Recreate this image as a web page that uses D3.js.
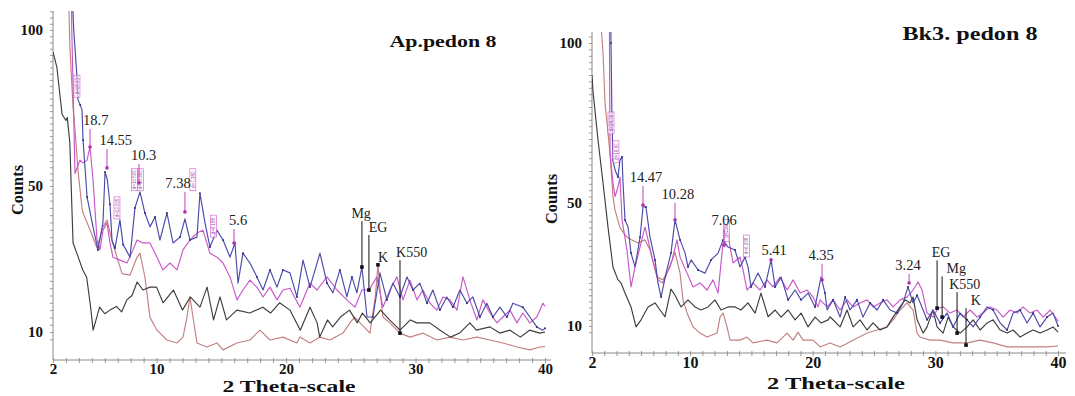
<!DOCTYPE html>
<html><head><meta charset="utf-8">
<script src="https://cdn.jsdelivr.net/npm/d3@7"></script>
<style>body{margin:0;background:#fff}svg{display:block}</style>
</head><body><svg id="c" width="1075" height="396"></svg>
<script>
// ---------- tick labels ----------
const thetaLabels = [2, 10, 20, 30, 40];
const countLabels = [10, 50, 100];

// ---------- Ap. pedon 8 : [2theta, counts] ----------
const apK = [[2.0,93],[2.3,88],[2.7,73],[3.0,71],[3.1,72],[3.3,64],[3.45,45],[3.55,34.4],[3.9,31],[4.3,27],[4.6,25],[4.9,17],[5.1,10.5],[5.6,16.8],[6.0,15],[6.4,16],[6.9,17],[7.3,15.5],[7.7,18.8],[8.1,20],[8.5,23.7],[8.95,21.5],[9.5,22.3],[10.0,22.3],[10.5,18],[11.3,21.5],[12.0,16],[12.6,19.6],[13.35,16.8],[13.9,22.3],[14.4,13.3],[14.9,19.6],[15.4,13.3],[16.2,16],[17.2,15.2],[18.2,16.8],[18.8,15.2],[19.5,18],[20.3,16],[21.1,10.5],[21.85,16.8],[22.4,12.5],[22.6,8.6],[23.2,13.3],[23.6,11.4],[24.2,14.1],[24.9,16],[25.5,12.5],[25.9,15.2],[26.5,12.5],[27.3,16],[28.0,13.3],[28.8,10.5],[29.6,13.3],[30.1,12.5],[31.1,12.5],[31.9,10.5],[32.7,8.6],[33.4,9.7],[34.2,12.5],[34.7,10.5],[35.75,11.4],[36.5,9.7],[37.3,10.5],[38.1,8.6],[38.8,10.5],[39.6,9.7],[40,10]];
const apK550 = [[3.1,130],[3.3,95],[3.55,75],[3.7,68],[3.93,55],[4.24,44],[4.32,42.6],[4.86,38],[5.4,33],[5.86,38.8],[6.17,40.7],[6.56,35],[6.94,30.5],[7.33,26],[7.95,25.6],[8.49,30.5],[8.72,31.6],[9.1,25],[9.49,14],[10.03,10.5],[10.8,7.8],[11.58,7],[12.04,8.6],[12.35,14.1],[12.58,19.6],[12.81,14.1],[13.12,7],[13.89,5.9],[14.66,7],[15.13,5.1],[16.21,7],[17.21,7.8],[17.98,10.5],[18.76,7.8],[19.76,8.6],[20.84,7],[21.07,8.6],[21.85,7],[22.62,8.6],[23.39,7.8],[24.4,9.7],[24.93,12.5],[25.3,14.1],[25.71,12.5],[26.48,9.7],[26.9,20],[27.1,28.4],[27.3,20],[27.48,14.1],[28.02,12.5],[28.8,9.7],[29.57,8.6],[30.57,9.7],[31.65,7.8],[32.66,8.6],[33.66,7.8],[34.74,8.6],[35.75,7.8],[36.75,7],[37.83,5.9],[38.83,5.1],[39.61,5.9],[40,6]];
const apMg = [[2.9,200],[3.3,130],[3.6,100],[3.85,85],[3.93,77.6],[4.1,76],[4.24,74.4],[4.32,64.7],[4.47,56],[4.63,47],[5.09,38.8],[5.47,32.5],[5.86,40],[6.02,54.5],[6.2,52],[6.4,45],[6.56,35],[6.79,33],[7.17,40.7],[7.41,34],[7.95,30.5],[8.33,44],[8.72,48.4],[9.1,42.6],[9.49,38.8],[9.88,41.5],[10.26,35.2],[10.8,42.6],[11.27,34.4],[11.81,36],[12.19,41],[12.58,35.2],[13.12,36],[13.35,48],[13.74,39.9],[14.12,33.3],[14.66,37.9],[15.13,35.2],[15.67,30.5],[16.05,34.4],[16.29,23.4],[16.67,31.6],[17.21,28.9],[17.75,25.1],[18.22,21.5],[18.76,27],[19.3,22.3],[19.76,27],[20.3,26.2],[20.84,19.6],[21.31,29.7],[21.85,22.3],[22.62,31.6],[23.16,23.4],[23.62,20.7],[24.16,27],[24.7,19.6],[25.09,25.1],[25.47,20.7],[25.86,27.8],[26.25,14.1],[26.71,14.1],[27.25,26.2],[27.79,18.8],[28.25,23.4],[28.8,19.6],[29.34,25.1],[29.8,21.5],[30.34,23.4],[30.88,17.9],[31.34,21.5],[31.88,16],[32.42,19.6],[32.89,16.8],[33.43,21.5],[33.97,17.9],[34.43,19.6],[34.97,14.1],[35.51,17.9],[35.98,14.1],[36.52,16.8],[37.06,14.1],[37.52,17.9],[38.29,16.8],[38.83,14.1],[39.37,11.4],[39.84,10.5],[40,11]];
const apEG = [[3.2,200],[3.45,100],[3.7,54],[4.08,58.3],[4.32,57.4],[4.63,58.3],[4.86,62.5],[5.09,52],[5.4,35.2],[5.63,32.5],[5.86,37.9],[6.17,39.9],[6.4,34.4],[6.63,30.5],[7.17,29.7],[7.71,28.9],[8.18,32.5],[8.49,35.2],[8.95,34.4],[9.49,34.4],[10.03,30.5],[10.49,27],[11.03,28.9],[11.58,27],[12.04,32.5],[12.58,35.2],[13.12,37.1],[13.58,37.9],[14.12,31.6],[14.66,30.5],[15.13,28.9],[15.67,25.1],[16.21,18.8],[16.67,21.5],[17.21,24.2],[17.75,22.3],[18.22,19.6],[18.76,22.3],[19.3,18.8],[19.76,21.5],[20.3,22],[21.07,16.8],[21.85,23.4],[22.39,21.5],[23.16,25.1],[23.93,21.5],[24.7,18.8],[25.32,16.8],[25.86,21.5],[26.4,21.5],[27.02,25.1],[27.48,16.8],[28.02,21.5],[28.56,25.1],[29.03,18.8],[29.57,24.2],[30.11,18.8],[30.57,21.5],[31.11,17.9],[31.65,16],[32.12,19.6],[32.66,18.8],[33.2,16],[33.66,25.1],[34.2,18.8],[34.74,13.3],[35.2,18.8],[35.75,15.2],[36.29,12.5],[36.75,14.1],[37.29,16],[37.83,12.5],[38.29,15.2],[38.83,12.5],[39.37,14.1],[39.84,17.9],[40,17]];

// ---------- Bk3. pedon 8 : [2theta, counts] ----------
const bkK = [[2.0,90],[2.08,85],[2.49,69.7],[2.9,56.3],[3.31,42],[3.71,29.2],[4.12,25],[4.37,24],[4.69,20.7],[5.18,16.2],[5.59,9.7],[6.0,12],[6.57,16.2],[7.14,17.5],[7.55,15.2],[7.95,13],[8.44,22],[8.77,20],[9.26,16.2],[9.83,18.5],[10.4,16.2],[10.89,15.2],[11.46,16.2],[12.03,18.5],[12.52,15.2],[13.09,16.2],[13.66,16.2],[14.15,15.2],[14.72,17.5],[15.3,14.2],[15.78,20.7],[16.36,13],[16.93,15.2],[17.42,12.9],[17.99,15.2],[18.56,12],[19.05,14.2],[19.62,9.7],[20.19,12.9],[20.68,11],[21.25,12],[21.41,13],[22.23,9.7],[22.8,15.2],[23.29,9.7],[23.86,12],[24.43,8.7],[24.92,11],[25.49,8.7],[26.06,9.7],[26.55,12.9],[27.12,16.2],[27.53,18.5],[27.94,17.5],[28.18,19.4],[28.51,12],[29.0,7.7],[29.32,9.7],[29.81,15.2],[30.14,9.7],[30.63,7.7],[31.04,12.9],[31.45,9.7],[32.02,7.7],[32.59,9.7],[33.08,12],[33.65,8.7],[34.22,11],[34.71,12],[35.28,8.7],[35.85,7.7],[36.34,8.7],[36.91,6.4],[37.48,7.7],[37.97,8.7],[38.54,7.7],[39.11,8.7],[39.6,9.7],[40,8]];
const bkK550 = [[2.65,110],[2.9,96.9],[3.06,81.3],[3.47,65.6],[3.71,52],[3.88,47.7],[4.28,42],[4.45,41],[4.85,38.9],[5.26,38],[5.75,37],[6.32,38],[6.73,34.7],[7.3,25.9],[7.79,25],[8.36,29.2],[8.77,34],[9.18,27.2],[9.42,18.5],[9.75,14.2],[10.24,9.7],[10.81,7.7],[11.38,6.4],[12.2,7.7],[12.44,12.9],[12.69,14.2],[13.01,9.7],[13.26,5.4],[14.07,5.4],[14.64,6.4],[15.13,4.5],[16.27,5.4],[17.09,4.5],[17.91,7.7],[18.4,5.4],[18.8,8],[19.21,5.4],[20.03,5.4],[20.6,3.2],[21.41,4.5],[22.23,3.2],[23.29,5.4],[24.43,7.7],[25.25,8.7],[26.06,9.7],[26.55,12],[27.12,15.2],[27.69,17.5],[28.18,15.2],[28.51,7.7],[28.75,6.4],[29.57,5.4],[30.38,5.4],[31.45,4.5],[32.59,4.5],[33.65,5.4],[34.71,4.5],[35.85,3.2],[36.91,3.2],[37.97,3.2],[39.11,3.2],[40,3.5]];
const bkMg = [[3.25,200],[3.55,100],[3.63,76],[3.71,63.4],[3.88,60.3],[4.12,58.1],[4.28,63.4],[4.45,64.4],[4.53,56.3],[4.69,44.5],[4.94,42.2],[5.18,33.7],[5.51,29.2],[5.92,38.9],[6.16,48.7],[6.4,48.7],[6.73,38.9],[7.14,31.5],[7.38,24],[7.63,19.4],[8.04,27.2],[8.44,33.7],[8.77,44.5],[9.18,38],[9.59,33.7],[9.83,29.2],[10.08,31.5],[10.65,28.2],[11.22,27.2],[11.71,31.5],[12.28,33.7],[12.69,38],[13.09,35.7],[13.66,34.7],[14.07,29.2],[14.48,32.4],[14.72,29.2],[14.97,22.7],[15.54,27.2],[16.11,22.7],[16.6,31.5],[16.93,22.7],[17.42,25.9],[17.99,18.5],[18.56,21.7],[19.05,18.5],[19.62,20.7],[20.19,16.2],[20.68,26],[21.0,20.7],[21.17,15.2],[21.66,18.5],[22.23,12.9],[22.64,19.4],[23.04,15.2],[23.61,18.5],[24.1,12.9],[24.68,17.5],[25.25,15.2],[25.74,18.5],[26.31,15.2],[26.88,14.2],[27.37,17.5],[27.77,22.7],[28.18,17.5],[28.51,20],[29.0,15.2],[29.32,12],[29.81,15.2],[30.38,11],[30.96,14.2],[31.45,9.7],[32.02,14.2],[32.59,12],[33.08,9.7],[33.65,12.9],[34.22,16.2],[34.71,15.2],[35.28,11],[35.85,8.7],[36.34,14.2],[36.91,15.2],[37.48,11],[37.97,14.2],[38.54,9.7],[39.11,12.9],[39.6,14.2],[40,10]];
const bkEG = [[3.3,200],[3.47,65.6],[3.71,56.3],[3.88,52],[4.12,55],[4.28,58.1],[4.45,44.5],[4.85,34.7],[5.18,22.7],[5.51,29.2],[5.92,35.7],[6.32,42.2],[6.57,38],[6.98,31],[7.38,25],[7.79,24],[8.12,27.2],[8.53,31.5],[8.93,38],[9.18,32.4],[9.75,27.2],[10.24,22.7],[10.81,24],[11.38,21.7],[11.87,25],[12.28,20.7],[12.6,33.7],[12.85,42.2],[13.01,42],[13.26,35.7],[13.5,30.5],[14.07,32.4],[14.32,28.2],[14.64,21.7],[15.13,24],[15.7,21.7],[16.27,25],[16.76,22.7],[17.33,25.9],[17.91,21.7],[18.4,25],[18.97,20.7],[19.54,21.7],[20.03,19.4],[20.43,16.2],[20.6,18.5],[21.17,16.2],[21.66,18.5],[22.23,15.2],[22.8,18.5],[23.29,16.2],[23.86,17.5],[24.43,18.5],[24.92,16.2],[25.49,17.5],[26.06,18.5],[26.55,16.2],[27.12,18.5],[27.69,19.4],[28.18,21.7],[28.59,24.3],[28.92,21.7],[29.32,14.2],[29.81,12.9],[30.22,15.8],[30.63,16.2],[31.2,14.2],[31.77,15.2],[32.26,12.9],[32.83,15.2],[33.4,12.9],[33.89,14.2],[34.46,16.2],[35.03,15.2],[35.52,12.9],[36.09,15.2],[36.67,14.2],[37.15,16.2],[37.73,14.2],[38.3,15.2],[38.79,12.9],[39.36,15.2],[39.93,12],[40,11.5]];

// ---------- annotations: [label, lineTheta, dotCounts, labelTheta, labelCounts] ----------
const apPeaks = [["18.7",4.86,62.5,5.3,69.6],["14.55",6.17,55.8,6.85,63.1],["10.3",8.64,51,9.0,58.3],["7.38",12.19,42.9,11.65,49.5],["5.6",15.98,34.4,16.3,39.3]];
const apPhases = [["Mg",25.86,27.8,25.8,41.2],["EG",26.4,21.5,27.1,37.4],["K",27.1,28.4,27.5,29.2],["K550",28.8,9.7,29.7,30.5]];
const bkPeaks = [["14.47",6.16,49.3,6.4,56.6],["10.28",8.77,44.5,9.0,51.3],["7.06",12.77,36.3,12.77,42.8],["5.41",16.6,31.5,16.85,33.1],["4.35",20.76,25,20.68,31.5],["3.24",27.86,24,27.77,28.2]];
const bkPhases = [["EG",30.14,15.8,30.47,32.3],["Mg",30.55,12.9,31.7,27.1],["K550",31.77,7.7,32.4,22.0],["K",32.5,3.8,33.3,16.8]];
// small d-spacing tags: [text, theta, centre counts]
const apTags = [["d=18.93",3.85,82],["d=13.005",6.94,44],["d=10.505",8.3,52],["d=10.300",8.75,52],["d=7.380",12.8,52],["d=6.188",14.4,39]];
const bkTags = [["d=24.76",3.55,75],["d=19.47",3.95,66],["d=7.06",12.95,41],["d=6.238",14.6,36]];

const colors = {K550:"#c48080", K:"#3d3d3d", EG:"#c858c8", Mg:"#4a4aa8"};

const panels = [
  {title:"Ap.pedon 8", series:{K550:apK550,K:apK,EG:apEG,Mg:apMg}, peaks:apPeaks, phases:apPhases, tags:apTags,
   L:{x0:53,x1:545,xEnd:551,yr:[332,186,30],top:11,bottom:360,tickPad:0,tickFs:15,
      titleX:443,titleY:47,titleLen:107,titleFs:16,xtX:289,xtY:392,xtLen:133,xtFs:16,cX:18,cY:190}},
  {title:"Bk3. pedon 8", series:{K550:bkK550,K:bkK,EG:bkEG,Mg:bkMg}, peaks:bkPeaks, phases:bkPhases, tags:bkTags,
   L:{x0:592,x1:1058,xEnd:1066,yr:[326,203,43],top:32,bottom:353,tickPad:1,tickFs:16,
      titleX:970,titleY:40,titleLen:135,titleFs:18,xtX:836,xtY:389,xtLen:138,xtFs:17,cX:552,cY:199}}
];

const svg = d3.select("#c");
const serif = "'Liberation Serif','Times New Roman',serif";

panels.forEach((p,pi)=>{
  const L = p.L;
  const x = d3.scaleLinear().domain([2,40]).range([L.x0,L.x1]);
  const y = d3.scaleLinear().domain(countLabels).range(L.yr);
  const g = svg.append("g");

  g.append("clipPath").attr("id","clip"+pi).append("rect")
    .attr("x",L.x0).attr("y",L.top).attr("width",L.xEnd-L.x0).attr("height",L.bottom-L.top);

  // axes
  const yTicks = d3.range(8,107,2).filter(v=>y(v)>=L.top && y(v)<=L.bottom);
  const ya = g.append("g").attr("transform",`translate(${L.x0},0)`)
    .call(d3.axisLeft(y).tickValues(yTicks).tickSize(3).tickPadding(7)
      .tickFormat(d=>countLabels.includes(d)?d:""));
  ya.select(".domain").remove();
  g.append("line").attr("x1",L.x0).attr("x2",L.x0).attr("y1",L.top).attr("y2",L.bottom)
    .attr("stroke","#8a8a8a").attr("stroke-width",1);
  ya.selectAll(".tick line").attr("stroke","#9a9a9a");
  ya.selectAll("text").attr("font-family",serif).attr("font-weight","bold").attr("font-size",15).attr("fill","#111");

  const xa = g.append("g").attr("transform",`translate(0,${L.bottom})`)
    .call(d3.axisBottom(x).tickValues(d3.range(2,41,1)).tickSize(3).tickPadding(L.tickPad)
      .tickFormat(d=>thetaLabels.includes(d)?d:""));
  xa.select(".domain").remove();
  g.append("line").attr("x1",L.x0).attr("x2",L.xEnd).attr("y1",L.bottom).attr("y2",L.bottom)
    .attr("stroke","#8a8a8a").attr("stroke-width",1);
  xa.selectAll(".tick line").attr("stroke","#9a9a9a").attr("y1",-2);
  xa.selectAll("text").attr("font-family",serif).attr("font-weight","bold").attr("font-size",L.tickFs).attr("fill","#111");

  // traces
  const line = d3.line().x(d=>x(d[0])).y(d=>y(d[1])).curve(d3.curveLinear);
  const tg = g.append("g").attr("clip-path",`url(#clip${pi})`);
  Object.entries(p.series).forEach(([k,data])=>{
    tg.append("path").datum(data).attr("d",line).attr("fill","none")
      .attr("stroke",colors[k]).attr("stroke-width",1.15).attr("stroke-linejoin","round");
  });
  // sample dots on the Mg trace
  tg.selectAll(".sd").data(p.series.Mg.filter((d,i)=>i%2===1)).enter().append("circle")
    .attr("cx",d=>x(d[0])).attr("cy",d=>y(d[1])).attr("r",1).attr("fill","#2e2e80");

  // d-spacing tags
  p.tags.forEach(t=>{
    const cx = x(t[1]), cy = y(t[2]);
    g.append("rect").attr("x",cx-3).attr("y",cy-11).attr("width",6).attr("height",22)
      .attr("fill","#fff").attr("fill-opacity",0.6).attr("stroke","#cc55cc").attr("stroke-width",0.6);
    g.append("text").attr("transform",`translate(${cx+1.8},${cy}) rotate(-90)`)
      .attr("text-anchor","middle").attr("font-family","'Liberation Sans',sans-serif")
      .attr("font-size",4.5).attr("fill","#b040b0").text(t[0]);
  });

  // peak labels (magenta arrows)
  p.peaks.forEach(a=>{
    const lx = x(a[1]), ty = y(a[4]);
    g.append("line").attr("x1",lx).attr("x2",lx).attr("y1",ty+4).attr("y2",y(a[2]))
      .attr("stroke","#c040c0").attr("stroke-width",1);
    g.append("circle").attr("cx",lx).attr("cy",y(a[2])).attr("r",1.8).attr("fill","#b030b0");
    g.append("text").attr("x",x(a[3])).attr("y",ty).attr("text-anchor","middle")
      .attr("font-family",serif).attr("font-size",14.5).attr("fill","#222").text(a[0]);
  });
  // phase labels (black)
  p.phases.forEach(a=>{
    const lx = x(a[1]), ty = y(a[4]);
    if (y(a[2]) - ty > 14)
      g.append("line").attr("x1",lx).attr("x2",lx).attr("y1",ty+3).attr("y2",y(a[2]))
        .attr("stroke","#111").attr("stroke-width",1);
    g.append("rect").attr("x",lx-1.8).attr("y",y(a[2])-1.8).attr("width",3.6).attr("height",3.6).attr("fill","#111");
    g.append("text").attr("x",x(a[3])).attr("y",ty).attr("text-anchor","middle")
      .attr("font-family",serif).attr("font-size",14).attr("fill","#222").text(a[0]);
  });

  // titles
  g.append("text").attr("x",L.titleX).attr("y",L.titleY).attr("text-anchor","middle")
    .attr("font-family",serif).attr("font-weight","bold").attr("font-size",L.titleFs)
    .attr("textLength",L.titleLen).attr("lengthAdjust","spacingAndGlyphs").attr("fill","#111").text(p.title);
  g.append("text").attr("x",L.xtX).attr("y",L.xtY).attr("text-anchor","middle")
    .attr("font-family",serif).attr("font-weight","bold").attr("font-size",L.xtFs)
    .attr("textLength",L.xtLen).attr("lengthAdjust","spacingAndGlyphs").attr("fill","#111").text("2 Theta-scale");
  g.append("text").attr("transform",`translate(${L.cX+5},${L.cY}) rotate(-90)`).attr("text-anchor","middle")
    .attr("font-family",serif).attr("font-weight","bold").attr("font-size",16)
    .attr("textLength",50).attr("lengthAdjust","spacingAndGlyphs").attr("fill","#111").text("Counts");
});
</script></body></html>
